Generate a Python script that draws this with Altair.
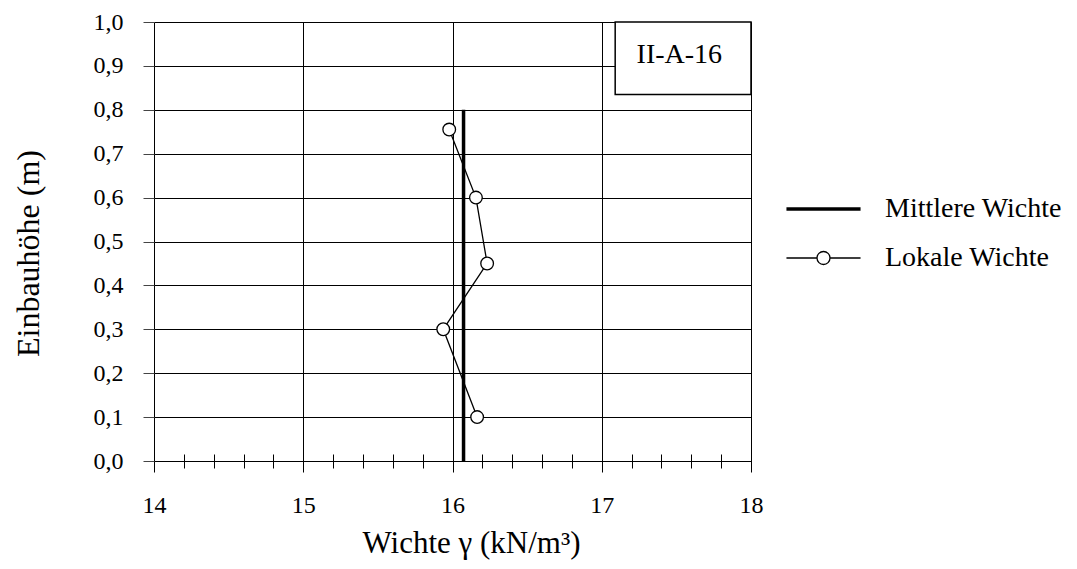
import altair as alt
import pandas as pd

# ---- data ----
local_x = [16.165, 15.938, 16.232, 16.157, 15.978]
local_y = [0.10, 0.30, 0.45, 0.60, 0.755]
mean_x = 16.074
mean_y = [0.0, 0.8]
series_names = ["Mittlere Wichte", "Lokale Wichte"]
x_ticks_minor = [round(14 + 0.2 * i, 1) for i in range(21)]
x_ticks_major = [14, 15, 16, 17, 18]
y_ticks = [round(0.1 * i, 1) for i in range(11)]
box_x = [17.09, 18.0]
box_y = [0.835, 1.0]
box_label = "II-A-16"
box_label_pos = [17.52, 0.925]

FONT = "Liberation Serif"

local_df = pd.DataFrame({"x": local_x, "y": local_y, "series": series_names[1]})
mean_df = pd.DataFrame({"x": [mean_x, mean_x], "y": mean_y, "series": series_names[0]})
box_df = pd.DataFrame({"x": [box_x[0]], "x2": [box_x[1]], "y": [box_y[0]], "y2": [box_y[1]]})
lab_df = pd.DataFrame({"x": [box_label_pos[0]], "y": [box_label_pos[1]], "t": [box_label]})

xscale = alt.Scale(domain=[14, 18], nice=False, zero=False)
yscale = alt.Scale(domain=[0, 1], nice=False, zero=False)

is_major = "abs(datum.value - round(datum.value)) < 0.001"


def X(field="x:Q"):
    return alt.X(field, scale=xscale, axis=None)


def Y(field="y:Q"):
    return alt.Y(field, scale=yscale, axis=None)


# layer carrying grid + y axis
grid_layer = alt.Chart(local_df).mark_point(opacity=0).encode(
    x=alt.X("x:Q", scale=xscale, axis=alt.Axis(
        orient="bottom", values=x_ticks_major, grid=True, gridColor="#000", gridWidth=1,
        ticks=False, labels=False, domain=False, title=None)),
    y=alt.Y("y:Q", scale=yscale, axis=alt.Axis(
        orient="left", values=y_ticks, grid=True, gridColor="#000", gridWidth=1,
        domain=False, tickSize=11, tickColor="#444", tickWidth=1,
        labelExpr="replace(format(datum.value, '.1f'), '.', ',')",
        labelFont=FONT, labelFontSize=24, labelColor="#000", labelPadding=20,
        labelFlush=False,
        title="Einbauhöhe (m)", titleFont=FONT, titleFontSize=32,
        titleFontWeight="normal", titleColor="#000",
        titleX=-126, titleY=231, titleAngle=270, titleBaseline="middle", titleAlign="center")),
)

# layer carrying the x ticks crossing the bottom border + labels + title
tick_layer = alt.Chart(local_df).mark_point(opacity=0).encode(
    x=alt.X("x:Q", scale=xscale, axis=alt.Axis(
        orient="bottom", values=x_ticks_minor, grid=False, domain=False, offset=-7,
        tickSize={"condition": {"test": is_major, "value": 18}, "value": 14},
        tickColor="#000", tickWidth=1,
        labelExpr="abs(datum.value - round(datum.value)) < 0.001 ? format(datum.value, 'd') : ''",
        labelFont=FONT, labelFontSize=24, labelColor="#000", labelPadding=21,
        labelFlush=False, labelOverlap=False,
        title="Wichte γ (kN/m³)", titleFont=FONT, titleFontSize=31,
        titleFontWeight="normal", titleColor="#000",
        titleX=317, titleY=98, titleBaseline="alphabetic", titleAlign="center")),
    y=Y(),
)

box = alt.Chart(box_df).mark_rect(fill="white", stroke="black", strokeWidth=1.5).encode(
    x=X(), x2="x2:Q", y=Y(), y2="y2:Q",
)
box_text = alt.Chart(lab_df).mark_text(font=FONT, fontSize=28, color="black", baseline="middle").encode(
    x=X(), y=Y(), text="t:N",
)

mean_line = alt.Chart(mean_df).mark_line(color="black", strokeWidth=3.5).encode(
    x=X(), y=Y(),
)
local_line = alt.Chart(local_df).mark_line(color="black", strokeWidth=1.3).encode(
    x=X(), y=Y(), order="y:Q",
)
local_pts = alt.Chart(local_df).mark_point(
    shape="circle", filled=True, fill="white", stroke="black", strokeWidth=1.3, size=160, opacity=1
).encode(
    x=X(), y=Y(),
)

path_mean = "M-5.7,0H5.7"
path_local = "M-5.7,0H-1M1,0H5.7M-1,0A1,1,0,1,0,1,0A1,1,0,1,0,-1,0"

legend_layer = alt.Chart(local_df).mark_point(opacity=0, filled=False, color="black").encode(
    x=X(), y=Y(),
    shape=alt.Shape("series:N", scale=alt.Scale(domain=series_names, range=[path_mean, path_local]),
                    legend=alt.Legend(title=None, orient="none", legendX=655.5, legendY=173,
                                      symbolSize=169, symbolOpacity=1, symbolStrokeColor="black",
                                      symbolFillColor="transparent",
                                      labelFont=FONT, labelFontSize=28, labelColor="#000",
                                      labelOffset=47.5, rowPadding=21, padding=0,
                                      labelLimit=400)),
    strokeWidth=alt.StrokeWidth("series:N", scale=alt.Scale(domain=series_names, range=[3.5, 1.3]),
                                legend=alt.Legend(title=None)),
)

chart = alt.layer(
    grid_layer, tick_layer, box, box_text, mean_line, local_line, local_pts, legend_layer
).resolve_axis(x="independent", y="independent").properties(
    width=597, height=439,
    autosize=alt.AutoSizeParams(type="none"),
    padding={"left": 146, "top": 14, "right": 316, "bottom": 99},
).configure_view(stroke="black", strokeWidth=3.5).configure(
    background="white", font=FONT
).configure_axis(labelFont=FONT, titleFont=FONT).configure_legend(labelFont=FONT)

chart.save("out.html", embed_options={"renderer": "svg", "actions": False})
